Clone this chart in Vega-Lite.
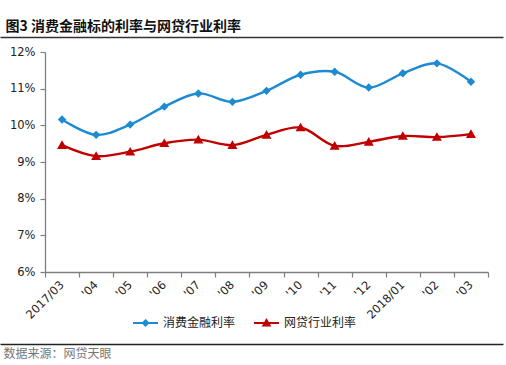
{
  "$schema": "https://vega.github.io/schema/vega-lite/v6.json",
  "background": "white",
  "padding": {"left": 0, "top": 19, "right": 3, "bottom": 4},
  "width": 443,
  "height": 220,
  "config": {
    "font": "Noto Sans CJK SC",
    "view": {"stroke": null}
  },
  "datasets": {
    "rates": [
      {"m": "2017/03", "series": "消费金融利率", "v": 10.16},
      {"m": "'04", "series": "消费金融利率", "v": 9.74},
      {"m": "'05", "series": "消费金融利率", "v": 10.02},
      {"m": "'06", "series": "消费金融利率", "v": 10.51},
      {"m": "'07", "series": "消费金融利率", "v": 10.87},
      {"m": "'08", "series": "消费金融利率", "v": 10.64},
      {"m": "'09", "series": "消费金融利率", "v": 10.94},
      {"m": "'10", "series": "消费金融利率", "v": 11.38},
      {"m": "'11", "series": "消费金融利率", "v": 11.46},
      {"m": "'12", "series": "消费金融利率", "v": 11.03},
      {"m": "2018/01", "series": "消费金融利率", "v": 11.42},
      {"m": "'02", "series": "消费金融利率", "v": 11.69},
      {"m": "'03", "series": "消费金融利率", "v": 11.19},
      {"m": "2017/03", "series": "网贷行业利率", "v": 9.46},
      {"m": "'04", "series": "网贷行业利率", "v": 9.16},
      {"m": "'05", "series": "网贷行业利率", "v": 9.28},
      {"m": "'06", "series": "网贷行业利率", "v": 9.51},
      {"m": "'07", "series": "网贷行业利率", "v": 9.61},
      {"m": "'08", "series": "网贷行业利率", "v": 9.46},
      {"m": "'09", "series": "网贷行业利率", "v": 9.74},
      {"m": "'10", "series": "网贷行业利率", "v": 9.94},
      {"m": "'11", "series": "网贷行业利率", "v": 9.44},
      {"m": "'12", "series": "网贷行业利率", "v": 9.55},
      {"m": "2018/01", "series": "网贷行业利率", "v": 9.71},
      {"m": "'02", "series": "网贷行业利率", "v": 9.68},
      {"m": "'03", "series": "网贷行业利率", "v": 9.76}
    ],
    "frame": [{"p": 0}, {"p": 1}]
  },
  "resolve": {"scale": {"x": "independent"}},
  "layer": [
    {
      "data": {"name": "rates"},
      "mark": {"type": "line", "interpolate": "catmull-rom", "strokeWidth": 2.4},
      "encoding": {
        "x": {
          "field": "m",
          "type": "ordinal",
          "sort": null,
          "scale": {"paddingInner": 0, "paddingOuter": 0},
          "axis": {
            "title": null,
            "orient": "bottom",
            "tickBand": "extent",
            "labelAngle": -45,
            "labelAlign": "right",
            "labelBaseline": "middle",
            "labelPadding": 6,
            "labelFont": "DejaVu Sans",
            "labelFontSize": 11.5,
            "labelColor": "#222",
            "domainColor": "#7f7f7f",
            "domainWidth": 1.3,
            "tickColor": "#7f7f7f",
            "tickWidth": 1.2,
            "tickSize": 5
          }
        },
        "y": {
          "field": "v",
          "type": "quantitative",
          "scale": {"domain": [6, 12], "nice": false, "zero": false},
          "axis": {
            "title": null,
            "values": [6, 7, 8, 9, 10, 11, 12],
            "labelExpr": "datum.value + '%'",
            "grid": false,
            "labelFont": "DejaVu Sans",
            "labelFontSize": 11.5,
            "labelColor": "#222",
            "labelPadding": 5,
            "domainColor": "#7f7f7f",
            "domainWidth": 1.3,
            "tickColor": "#7f7f7f",
            "tickWidth": 1.2,
            "tickSize": 5
          }
        },
        "color": {
          "field": "series",
          "type": "nominal",
          "scale": {"domain": ["消费金融利率", "网贷行业利率"], "range": ["#1d8ad2", "#c00000"]},
          "legend": {
            "title": null,
            "orient": "none",
            "direction": "horizontal",
            "legendX": 87,
            "legendY": 257,
            "symbolSize": 625,
            "symbolStrokeWidth": 2,
            "symbolOpacity": 1,
            "labelFont": "Noto Sans CJK SC",
            "labelFontSize": 12,
            "labelColor": "#222",
            "labelOffset": 4,
            "columnPadding": 14
          }
        }
      }
    },
    {
      "data": {"name": "rates"},
      "mark": {"type": "point", "filled": true, "opacity": 1, "strokeWidth": 0},
      "encoding": {
        "x": {
          "field": "m",
          "type": "ordinal",
          "sort": null,
          "scale": {"paddingInner": 0, "paddingOuter": 0},
          "axis": null
        },
        "y": {
          "field": "v",
          "type": "quantitative",
          "scale": {"domain": [6, 12], "nice": false, "zero": false},
          "axis": {
            "title": null,
            "values": [6, 7, 8, 9, 10, 11, 12],
            "labelExpr": "datum.value + '%'",
            "grid": false,
            "labelFont": "DejaVu Sans",
            "labelFontSize": 11.5,
            "labelColor": "#222",
            "labelPadding": 5,
            "domainColor": "#7f7f7f",
            "domainWidth": 1.3,
            "tickColor": "#7f7f7f",
            "tickWidth": 1.2,
            "tickSize": 5
          }
        },
        "color": {
          "field": "series",
          "type": "nominal",
          "scale": {"domain": ["消费金融利率", "网贷行业利率"], "range": ["#1d8ad2", "#c00000"]}
        },
        "shape": {
          "field": "series",
          "type": "nominal",
          "scale": {"domain": ["消费金融利率", "网贷行业利率"], "range": ["M-1,0L1,0M0,-0.21L0.21,0L0,0.21L-0.21,0Z", "M-1,0L1,0M0,-0.24L0.25,0.19L-0.25,0.19Z"]},
          "legend": null
        },
        "size": {"value": 1600}
      }
    },
    {
      "data": {"name": "frame"},
      "mark": {"type": "rule", "opacity": 0},
      "encoding": {
        "x": {
          "field": "p",
          "type": "quantitative",
          "scale": {"domain": [0, 1], "range": [-45, 458], "nice": false, "zero": false},
          "axis": {
            "orient": "top",
            "offset": 15,
            "domain": true,
            "domainColor": "#333",
            "domainWidth": 1.5,
            "ticks": false,
            "labels": false,
            "grid": false,
            "title": "图3  消费金融标的利率与网贷行业利率",
            "titleX": -40,
            "titleY": -4,
            "titleAlign": "left",
            "titleBaseline": "bottom",
            "titleFont": "Noto Sans CJK SC",
            "titleFontSize": 14,
            "titleFontWeight": "bold",
            "titleColor": "#111"
          }
        }
      }
    },
    {
      "data": {"name": "frame"},
      "mark": {"type": "rule", "opacity": 0},
      "encoding": {
        "x": {
          "field": "p",
          "type": "quantitative",
          "scale": {"domain": [0, 1], "range": [-45, 458], "nice": false, "zero": false},
          "axis": {
            "orient": "bottom",
            "offset": 72,
            "domain": true,
            "domainColor": "#222",
            "domainWidth": 1.5,
            "ticks": false,
            "labels": false,
            "grid": false,
            "title": "数据来源：网贷天眼",
            "titleX": -42,
            "titleY": 9,
            "titleAlign": "left",
            "titleBaseline": "middle",
            "titleFont": "Noto Sans CJK SC",
            "titleFontSize": 12,
            "titleFontWeight": "normal",
            "titleColor": "#777"
          }
        }
      }
    }
  ]
}
